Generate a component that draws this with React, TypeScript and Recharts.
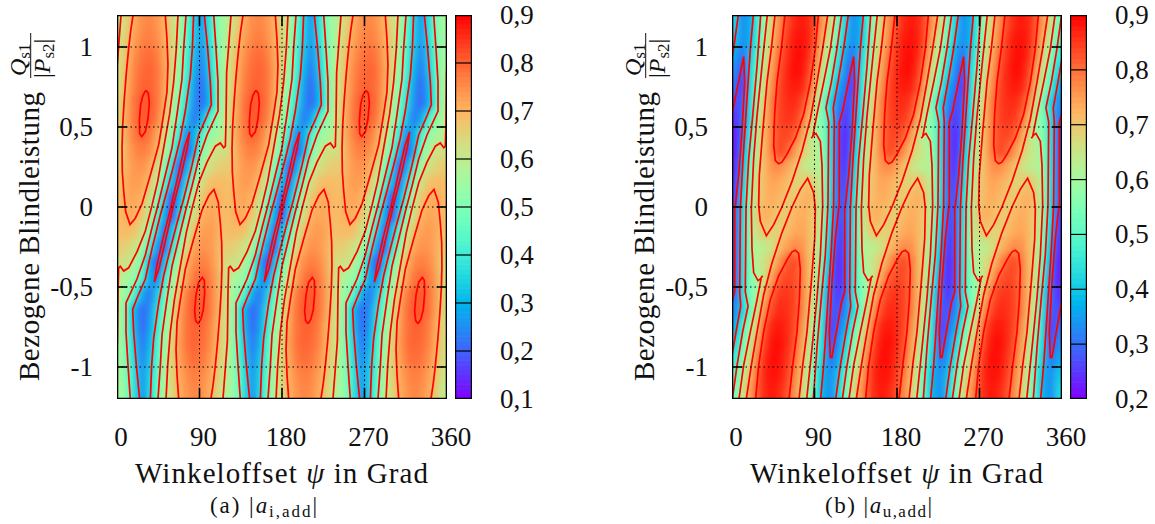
import React from "react";
import { ScatterChart, Scatter, XAxis, YAxis, ReferenceArea } from "recharts";

// ---------- shared axis values ----------
const psiTicks = [0, 90, 180, 270, 360];
const innerPsiTicks = [90, 180, 270];
const qTicks = [-1, -0.5, 0, 0.5, 1];
const tileCols = [4, 12, 20, 28, 36, 44, 52, 60, 68, 76, 84, 92, 100, 108, 116];
const tileStarts = [0, 120, 240];
const tileShifts = [-120, 0, 120, 240];
const topRowQ = [1.15, 1.05, 0.95, 0.85, 0.75, 0.65, 0.55, 0.45, 0.35, 0.25, 0.15, 0.05];

// ---------- left panel |a_i,add|: the picture repeats every 120 deg and is point symmetric ----------
const leftTop = [
  [.60,.665,.72,.75,.76,.74,.705,.64,.58,.47,.36,.26,.37,.49,.56],
  [.62,.68,.73,.76,.77,.75,.71,.65,.575,.455,.35,.26,.37,.475,.56],
  [.63,.70,.75,.78,.79,.77,.72,.65,.56,.44,.33,.24,.345,.465,.56],
  [.64,.71,.765,.79,.80,.78,.73,.64,.54,.43,.31,.22,.33,.455,.57],
  [.64,.715,.77,.80,.80,.78,.72,.61,.52,.40,.28,.20,.31,.44,.57],
  [.65,.725,.785,.81,.81,.78,.71,.59,.49,.38,.26,.20,.30,.44,.57],
  [.65,.73,.785,.81,.805,.77,.68,.56,.47,.34,.22,.29,.42,.51,.58],
  [.64,.73,.775,.80,.775,.72,.62,.53,.40,.24,.29,.42,.52,.56,.59],
  [.64,.72,.755,.77,.75,.70,.58,.47,.33,.17,.31,.49,.57,.62,.63],
  [.66,.715,.74,.745,.715,.63,.51,.38,.19,.27,.43,.56,.62,.65,.665],
  [.68,.72,.735,.725,.68,.58,.45,.32,.21,.37,.52,.62,.68,.69,.69],
  [.69,.715,.72,.70,.62,.51,.36,.17,.30,.45,.585,.675,.705,.715,.69],
];
const leftOval8a = [[31.6,.73],[34.2,.71],[35.3,.65],[33.8,.55],[30.9,.47],[26.9,.44],[24.7,.46],[24.4,.54],[25.8,.64],[28.4,.70],[31.6,.73]];
const leftOval8b = [[88.4,-.73],[85.8,-.71],[84.7,-.65],[86.2,-.55],[89.1,-.47],[93.1,-.44],[95.3,-.46],[95.6,-.54],[94.2,-.64],[91.6,-.70],[88.4,-.73]];
const leftOval7a = [[17.5,1.2],[14.9,1.1],[12.7,.99],[10.2,.84],[8,.68],[6.2,.51],[5.5,.37],[5.8,.22],[7.3,.1],[9.5,-.03],[14.2,-.11],[20,-.07],[27.3,.02],[36.4,.2],[45.5,.39],[50.9,.58],[54.5,.72],[55.6,.89],[54.5,1.05],[52.7,1.2]];
const leftOval7b = [[102.5,-1.2],[105.1,-1.1],[107.3,-.99],[109.8,-.84],[112,-.68],[113.8,-.51],[114.5,-.37],[114.2,-.22],[112.7,-.1],[110.5,.03],[105.8,.11],[100,.07],[92.7,-.02],[83.6,-.2],[74.5,-.39],[69.1,-.58],[65.5,-.72],[64.4,-.89],[65.5,-1.05],[67.3,-1.2]];
const leftLine6a = [[66.5,1.2],[64.7,.99],[61.8,.78],[57.4,.58],[50.9,.37],[44.4,.16],[38.2,.01],[30.9,-.15],[21.8,-.28],[12.7,-.38],[7.3,-.4],[3.6,-.37],[1.8,-.38],[1.1,-.53],[.4,-.84],[-4.4,-1.2]];
const leftLine6b = [[124.4,1.2],[119.6,.84],[118.9,.53],[118.2,.38],[116.4,.37],[112.7,.4],[107.3,.38],[98.2,.28],[89.1,.15],[81.8,-.01],[75.6,-.16],[69.1,-.37],[62.6,-.58],[58.2,-.78],[55.3,-.99],[53.5,-1.2]];
const leftLine5a = [[75.3,1.2],[72.7,.99],[70.9,.8],[65.5,.58],[60,.37],[52.7,.2],[45.5,.03],[38.2,-.13],[30.9,-.3],[21.8,-.45],[9.8,-.6],[9.8,-.78],[12,-.99],[14.5,-1.2]];
const leftLine5b = [[105.5,1.2],[108,.99],[110.2,.78],[110.2,.6],[98.2,.45],[89.1,.3],[81.8,.13],[74.5,-.03],[67.3,-.2],[60,-.37],[54.5,-.58],[49.1,-.8],[47.3,-.99],[44.7,-1.2]];
const leftLine4a = [[83.6,1.2],[82.2,.99],[80,.82],[74.5,.6],[69.1,.43],[61.8,.26],[54.5,.1],[47.3,-.05],[38.2,-.26],[30.9,-.45],[21.8,-.57],[17.1,-.64],[18.2,-.78],[21.1,-.99],[24.7,-1.2]];
const leftLine4b = [[95.3,1.2],[98.9,.99],[101.8,.78],[102.9,.64],[98.2,.57],[89.1,.45],[81.8,.26],[72.7,.05],[65.5,-.1],[58.2,-.26],[50.9,-.43],[45.5,-.6],[40,-.82],[37.8,-.99],[36.4,-1.2]];
const leftInner = [[79.3,.47],[74,.38],[66,.18],[58,-.02],[50,-.2],[43,-.38],[40.7,-.47],[46,-.38],[54,-.18],[62,.02],[70,.2],[77,.38],[79.3,.47]];
const leftLines = [leftOval8a, leftOval8b, leftOval7a, leftOval7b, leftLine6a, leftLine6b, leftLine5a, leftLine5b, leftLine4a, leftLine4b, leftInner];

// ---------- right panel |a_u,add| ----------
const rightTop = [
  [.42,.33,.37,.475,.585,.69,.77,.83,.865,.88,.865,.82,.75,.65,.53],
  [.40,.33,.375,.485,.605,.71,.785,.845,.88,.885,.87,.81,.715,.615,.505],
  [.36,.30,.40,.51,.63,.73,.81,.855,.885,.89,.86,.785,.67,.575,.46],
  [.33,.26,.42,.53,.65,.75,.825,.865,.89,.885,.84,.75,.63,.535,.42],
  [.30,.24,.43,.56,.67,.77,.835,.865,.88,.87,.82,.70,.59,.495,.37],
  [.27,.28,.44,.59,.70,.79,.84,.86,.865,.84,.77,.65,.53,.42,.33],
  [.24,.31,.44,.615,.715,.79,.84,.855,.85,.81,.72,.60,.54,.44,.30],
  [.225,.32,.48,.64,.72,.79,.835,.84,.82,.75,.66,.60,.555,.44,.29],
  [.22,.37,.50,.645,.72,.79,.84,.815,.765,.70,.66,.63,.565,.44,.29],
  [.235,.39,.54,.66,.72,.765,.77,.745,.71,.66,.635,.63,.58,.44,.29],
  [.25,.41,.565,.68,.72,.745,.735,.715,.685,.685,.71,.67,.59,.44,.29],
  [.26,.43,.58,.685,.72,.735,.72,.695,.695,.72,.735,.69,.585,.43,.30],
];
const rightOval8a = [[57.8,1.2],[53.8,.99],[49.1,.78],[46.5,.58],[45.5,.39],[47.3,.29],[50.9,.27],[54.5,.28],[60,.33],[69.1,.43],[78.2,.58],[85.5,.78],[90.9,.99],[94.2,1.2]];
const rightOval8b = [[62.2,-1.2],[66.2,-.99],[70.9,-.78],[73.5,-.58],[74.5,-.39],[72.7,-.29],[69.1,-.27],[65.5,-.28],[60,-.33],[50.9,-.43],[41.8,-.58],[34.5,-.78],[29.1,-.99],[25.8,-1.2]];
const rightLine7a = [[46.9,1.2],[42.9,.99],[38.2,.78],[33.5,.47],[29.8,.2],[29.1,.01],[30.9,-.09],[37.5,-.18],[45.5,-.11],[54.5,0],[65.5,.16],[76.4,.35],[85.5,.55],[92.7,.78],[98.9,.99],[104.4,1.2]];
const rightLine7b = [[73.1,-1.2],[77.1,-.99],[81.8,-.78],[86.5,-.47],[90.2,-.2],[90.9,-.01],[89.1,.09],[82.5,.18],[74.5,.11],[65.5,0],[54.5,-.16],[43.6,-.35],[34.5,-.55],[27.3,-.78],[21.1,-.99],[15.6,-1.2]];
const rightLine6a = [[112.4,1.2],[107.3,.99],[100,.78],[92.7,.58],[88,.44],[86.5,.43],[89.1,.45],[91.6,.46],[96.4,.41],[98.2,.26],[98.9,.01],[96.4,-.3],[92.7,-.57],[87.3,-.88],[81.5,-1.2]];
const rightLine6b = [[38.5,1.2],[32.7,.88],[27.3,.57],[23.6,.3],[21.1,-.01],[21.8,-.26],[23.6,-.41],[28.4,-.46],[30.9,-.45],[33.5,-.43],[32,-.44],[27.3,-.58],[20,-.78],[12.7,-.99],[7.6,-1.2]];
const rightLine5a = [[119.6,1.2],[114.5,.99],[108.4,.78],[102.5,.62],[105.5,.53],[104.7,.01],[101.8,-.3],[97.4,-.57],[92.7,-.88],[88.7,-1.2]];
const rightLine5b = [[31.3,1.2],[27.3,.88],[22.6,.57],[18.2,.3],[15.3,-.01],[14.5,-.53],[17.5,-.62],[11.6,-.78],[5.5,-.99],[.4,-1.2]];
const rightLine4a = [[126.9,1.2],[121.8,.99],[115.6,.78],[110.5,.62],[111.6,.53],[110.9,.01],[108,-.3],[103.6,-.68],[100,-.99],[96.7,-1.2]];
const rightLine4b = [[23.3,1.2],[20,.99],[16.4,.68],[12,.3],[9.1,-.01],[8.4,-.53],[9.5,-.62],[4.4,-.78],[-1.8,-.99],[-6.9,-1.2]];
const rightLine3 = [[132.7,.94],[120.7,.6],[117.1,.53],[117.1,.01],[116.4,-.01],[112.7,-.2],[109.1,-.47],[106.2,-.78],[107.3,-.94],[109,-.94],[119.3,-.6],[122.9,-.53],[122.9,-.01],[123.6,.01],[127.3,.2],[130.9,.47],[133.8,.78],[132.7,.94]];
const rightLines = [rightOval8a, rightOval8b, rightLine7a, rightLine7b, rightLine6a, rightLine6b, rightLine5a, rightLine5b, rightLine4a, rightLine4b, rightLine3];

const leftBarTicks = [.1, .2, .3, .4, .5, .6, .7, .8, .9];
const rightBarTicks = [.2, .3, .4, .5, .6, .7, .8, .9];

// ---------- helpers ----------
const SERIF = "'Liberation Serif', serif";
const PLOT_W = 330;
const PLOT_H = 384;

function palette(t: number) {
  const c = (v: number) => Math.round(255 * Math.max(0, Math.min(1, v)));
  const r = Math.abs(2 * t - 0.5);
  const g = Math.sin(Math.PI * t);
  const b = Math.cos((Math.PI * t) / 2);
  return `rgb(${c(r)},${c(g)},${c(b)})`;
}

function heatTable(top: number[][]) {
  const rows = top.concat(top.slice().reverse().map((r) => r.slice().reverse()));
  const qs = topRowQ.concat(topRowQ.slice().reverse().map((q) => -q));
  const out: { x: number; y: number; v: number }[] = [];
  rows.forEach((row, i) =>
    tileStarts.forEach((s) =>
      row.forEach((v, j) => out.push({ x: s + tileCols[j], y: qs[i], v }))
    )
  );
  return out;
}

const comma = (v: number) => String(v).replace(".", ",");

function HeatCell(props: any, lo: number, hi: number) {
  const { cx, cy, payload } = props;
  const w = PLOT_W / 45 + 0.6;
  const h = PLOT_H / 24 + 0.6;
  return <rect x={cx - w / 2} y={cy - h / 2} width={w} height={h} fill={palette((payload.v - lo) / (hi - lo))} />;
}

function XTick({ x, payload }: any) {
  return (
    <text x={x + 4} y={446} textAnchor="middle" fontFamily={SERIF} fontSize={27} fill="#111">
      {payload.value}
    </text>
  );
}
function YTick({ y, payload }: any) {
  return (
    <text x={93} y={y + 9} textAnchor="end" fontFamily={SERIF} fontSize={27} fill="#111">
      {comma(payload.value)}
    </text>
  );
}

const noDot = () => <g />;

function rule(key: string, pts: { x: number; y: number }[], width: number, dash?: string) {
  return (
    <Scatter
      key={key}
      data={pts}
      isAnimationActive={false}
      line={{ stroke: "#000", strokeWidth: width, strokeDasharray: dash, fill: "none" }}
      lineType="joint"
      shape={noDot}
    />
  );
}

function Panel({ left, rows, lines, lo, hi, tag, sub }: any) {
  const heat = heatTable(rows);
  return (
    <div style={{ position: "absolute", left, top: 0, width: 480, height: 524 }}>
      <ScatterChart width={480} height={524} margin={{ left: 57, top: 15, right: 33, bottom: 95 }}>
        <XAxis type="number" dataKey="x" domain={[0, 360]} ticks={psiTicks} allowDataOverflow height={30} axisLine={false} tickLine={false} tick={<XTick />} interval={0} />
        <YAxis type="number" dataKey="y" domain={[-1.2, 1.2]} ticks={qTicks} allowDataOverflow width={60} axisLine={false} tickLine={false} tick={<YTick />} interval={0} />
        <Scatter data={heat} isAnimationActive={false} shape={(p: any) => HeatCell(p, lo, hi)} />
        <Scatter className="heat-smooth" data={heat} isAnimationActive={false} shape={(p: any) => HeatCell(p, lo, hi)} />
        {tileShifts.flatMap((s) =>
          lines.map((pts: number[][], i: number) => (
            <Scatter
              key={`${s}-${i}`}
              data={pts.map(([x, y]) => ({ x: x + s, y }))}
              isAnimationActive={false}
              line={{ stroke: "#ff0000", strokeWidth: 1.7, fill: "none" }}
              lineType="joint"
              shape={noDot}
            />
          ))
        )}
        {innerPsiTicks.map((v) => rule(`gx${v}`, [{ x: v, y: -1.2 }, { x: v, y: 1.2 }], 1, "1.5 3"))}
        {qTicks.map((v) => rule(`gy${v}`, [{ x: 0, y: v }, { x: 360, y: v }], 1, "1.5 3"))}
        {innerPsiTicks.flatMap((v) => [
          rule(`tb${v}`, [{ x: v, y: -1.2 }, { x: v, y: -1.13 }], 1.6),
          rule(`tt${v}`, [{ x: v, y: 1.13 }, { x: v, y: 1.2 }], 1.6),
        ])}
        {qTicks.flatMap((v) => [
          rule(`tl${v}`, [{ x: 0, y: v }, { x: 11, y: v }], 1.6),
          rule(`tr${v}`, [{ x: 349, y: v }, { x: 360, y: v }], 1.6),
        ])}
        {rule("frame", [{ x: 0, y: -1.2 }, { x: 360, y: -1.2 }, { x: 360, y: 1.2 }, { x: 0, y: 1.2 }, { x: 0, y: -1.2 }], 2.6)}
      </ScatterChart>
      <svg width={480} height={524} style={{ position: "absolute", left: 0, top: 0, pointerEvents: "none" }} fontFamily={SERIF} fill="#111">
        <text x={135} y={483} fontSize={29} textLength={293} lengthAdjust="spacing">
          Winkeloffset <tspan fontStyle="italic">ψ</tspan> in Grad
        </text>
        <text transform="translate(39,381) rotate(-90)" fontSize={29} textLength={289} lengthAdjust="spacing">
          Bezogene Blindleistung
        </text>
        <g transform="translate(26,78) rotate(-90)" fontSize={24}>
          <text x={2}>
            <tspan fontStyle="italic">Q</tspan>
            <tspan fontSize={17} dy={4}>s1</tspan>
          </text>
        </g>
        <line x1={30.7} x2={30.7} y1={33} y2={78} stroke="#111" strokeWidth={1} />
        <g transform="translate(50,78) rotate(-90)" fontSize={24}>
          <text x={0}>
            |<tspan fontStyle="italic">P</tspan>
            <tspan fontSize={17} dy={4}>s2</tspan>
            <tspan dy={-4}>|</tspan>
          </text>
        </g>
        <text x={210} y={513} fontSize={23} textLength={107} lengthAdjust="spacing">
          ({tag}) |<tspan fontStyle="italic">a</tspan>
          <tspan fontSize={17} dy={4}>{sub}</tspan>
          <tspan dy={-4}>|</tspan>
        </text>
      </svg>
    </div>
  );
}

function BarTick({ y, payload }: any) {
  return (
    <text x={45} y={y + 9} fontFamily={SERIF} fontSize={27} fill="#111">
      {comma(payload.value)}
    </text>
  );
}

function ColorBar({ left, ticks, lo, hi }: any) {
  const n = Math.round((hi - lo) * 100);
  const strips = Array.from({ length: n }, (_, i) => ({ x: 0.5, y: lo + (i + 0.5) / 100, v: (i + 0.5) / n }));
  const h = PLOT_H / n + 0.6;
  return (
    <div style={{ position: "absolute", left, top: 0, width: 95, height: 524 }}>
      <ScatterChart width={95} height={524} margin={{ left: 0, top: 15, right: 18, bottom: 125 }}>
        <XAxis type="number" dataKey="x" domain={[0, 1]} allowDataOverflow hide />
        <YAxis type="number" orientation="right" dataKey="y" domain={[lo, hi]} ticks={ticks} allowDataOverflow width={60} axisLine={false} tickLine={false} tick={<BarTick />} interval={0} />
        <Scatter
          data={strips}
          isAnimationActive={false}
          shape={(p: any) => <rect x={p.cx - 10} y={p.cy - h / 2} width={20} height={h} fill={palette(p.payload.v)} />}
        />
        {ticks.map((v: number) => rule(`b${v}`, [{ x: 0, y: v }, { x: 1, y: v }], 1.2))}
        {rule("barframe", [{ x: 0, y: lo }, { x: 1, y: lo }, { x: 1, y: hi }, { x: 0, y: hi }, { x: 0, y: lo }], 2.4)}
      </ScatterChart>
    </div>
  );
}

export default function App() {
  return (
    <div style={{ position: "fixed", left: 0, top: 0, width: 1155, height: 524, background: "#fff", overflow: "hidden" }}>
      <style>{`.heat-smooth { filter: url(#heat-blur); }`}</style>
      <svg width={0} height={0} style={{ position: "absolute" }}>
        <defs>
          <filter id="heat-blur" x="0" y="0" width="1" height="1" colorInterpolationFilters="sRGB">
            <feGaussianBlur stdDeviation="3 5" />
          </filter>
        </defs>
      </svg>
      <Panel left={0} rows={leftTop} lines={leftLines} lo={0.1} hi={0.9} tag="a" sub="i,add" />
      <Panel left={615} rows={rightTop} lines={rightLines} lo={0.2} hi={0.9} tag="b" sub="u,add" />
      <ColorBar left={455} ticks={leftBarTicks} lo={0.1} hi={0.9} />
      <ColorBar left={1070} ticks={rightBarTicks} lo={0.2} hi={0.9} />
    </div>
  );
}
